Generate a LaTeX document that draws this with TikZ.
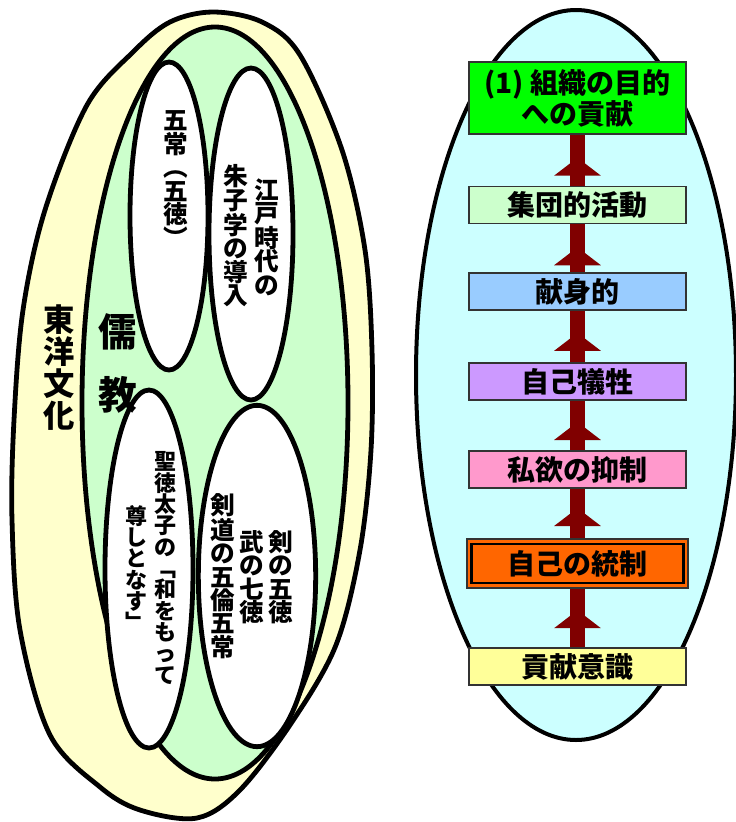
\documentclass[tikz,border=0pt]{standalone}
\usepackage{fontspec}
\newfontfamily\jp{Noto Sans CJK JP}
\usetikzlibrary{decorations.markings}
\definecolor{yel}{HTML}{FFFFCC}
\definecolor{grn}{HTML}{CCFFCC}
\definecolor{cyn}{HTML}{CCFFFF}
\definecolor{bA}{HTML}{00FF00}
\definecolor{bB}{HTML}{CCFFCC}
\definecolor{bC}{HTML}{99CCFF}
\definecolor{bD}{HTML}{CC99FF}
\definecolor{bE}{HTML}{FF99CC}
\definecolor{bF}{HTML}{FF6600}
\definecolor{bG}{HTML}{FFFF99}
\definecolor{arr}{HTML}{800000}
\definecolor{bline}{HTML}{333333}
\pgfdeclarelayer{bg}
\pgfsetlayers{bg,main}
\tikzset{
  outl/.style={draw=black, line width=3.6pt},
  vtxt/.style={align=center, inner sep=0pt, font=\jp\bfseries\fontsize{18.5}{17.6}\selectfont},
  vsm/.style={align=center, inner sep=0pt, font=\jp\bfseries\fontsize{16.5}{16}\selectfont},
  rbox/.style={draw=bline, line width=1.1pt, minimum width=162.75pt, minimum height=27.75pt,
    inner sep=0pt, align=center, font=\jp\bfseries\fontsize{21}{21.75}\selectfont},
  shaft/.style={draw=arr, line width=11.25pt, postaction={decorate}, decoration={markings,
    mark=at position #1 with {\fill[arr] (0pt,0pt) -- (-13.5pt,17.6pt) -- (-13.5pt,-17.6pt) -- cycle;}}},
}
\begin{document}
\begin{tikzpicture}[x=0.75pt,y=-0.75pt]
\useasboundingbox (0,0) rectangle (736,822);
% ---------- left figure ----------
\draw[outl, fill=yel] plot[smooth cycle, tension=0.55] coordinates {
 (213,12) (262,22) (300,55) (342,150) (365,250) (372,350) (371,450) (360,550)
 (336,645) (292,722) (240,790) (197,818) (140,810) (100,787) (50,735) (20,630)
 (12,520) (14,420) (23,310) (45,210) (87,105) (133,52) (170,22)};
\draw[outl, fill=grn] (215,403) ellipse [x radius=99.75pt, y radius=282pt];
\draw[outl, fill=white] (169,216) ellipse [x radius=29.25pt, y radius=115.5pt];
\draw[outl, fill=white] (251,234) ellipse [x radius=31.5pt, y radius=124.5pt];
\draw[outl, fill=white] (149,569) ellipse [x radius=33pt, y radius=134.25pt];
\draw[outl, fill=white] (257,576) ellipse [x radius=44pt, y radius=128pt];

\node[align=center, inner sep=0pt, font=\jp\bfseries\fontsize{23.5}{24}\selectfont] (toyo) at (59,368) {東\\洋\\文\\化};
\node[inner sep=0pt, font=\jp\bfseries\fontsize{29}{29}\selectfont] (ju) at (118,332) {儒};
\node[inner sep=0pt, font=\jp\bfseries\fontsize{29}{29}\selectfont] (kyo) at (118,395) {教};

\node[vtxt] (t1) at (176,179) {五\\常\\︵\\五\\徳\\︶};
\node[vtxt] (t2a) at (267,237) {江\\戸\\時\\代\\の};
\node[vtxt] (t2b) at (236,236) {朱\\子\\学\\の\\導\\入};
\node[vsm] (t3a) at (165,568) {聖\\徳\\太\\子\\の\\﹁\\和\\を\\も\\っ\\て};
\node[vsm] (t3b) at (136,568) {尊\\し\\と\\な\\す\\﹂};
\node[vtxt] (t4a) at (281,577) {剣\\の\\五\\徳};
\node[vtxt] (t4b) at (252,577) {武\\の\\七\\徳};
\node[vtxt] (t4c) at (223,576) {剣\\道\\の\\五\\倫\\五\\常};

% ---------- right figure ----------
\node[rbox, fill=bA, minimum height=54pt] (b1) at (577.5,98) {(1) 組織の目的\\への貢献};
\node[rbox, fill=bB] (b2) at (577.5,205) {集団的活動};
\node[rbox, fill=bC] (b3) at (577.5,291.5) {献身的};
\node[rbox, fill=bD] (b4) at (577.5,381.5) {自己犠牲};
\node[rbox, fill=bE] (b5) at (577.5,469.5) {私欲の抑制};
\node[draw=bline, line width=1.1pt, fill=bF, minimum width=165.75pt, minimum height=36.75pt, inner sep=0pt] (b6o) at (577.5,563.5) {};
\node[rbox, draw=black, line width=1.6pt, fill=bF, minimum width=159pt, minimum height=29.25pt] (b6) at (b6o.center) {自己の統制};
\node[rbox, fill=bG] (b7) at (577.5,666.5) {貢献意識};

\begin{pgfonlayer}{bg}
\draw[line width=3pt, fill=cyn] (576,375) ellipse [x radius=120pt, y radius=273.75pt];
\draw[shaft=0.633] (b7.north) -- (b6o.south);
\draw[shaft=0.61] (b6o.north) -- (b5.south);
\draw[shaft=0.57] (b5.north) -- (b4.south);
\draw[shaft=0.57] (b4.north) -- (b3.south);
\draw[shaft=0.52] (b3.north) -- (b2.south);
\draw[shaft=0.55] (b2.north) -- (b1.south);
\end{pgfonlayer}
\end{tikzpicture}
\end{document}
